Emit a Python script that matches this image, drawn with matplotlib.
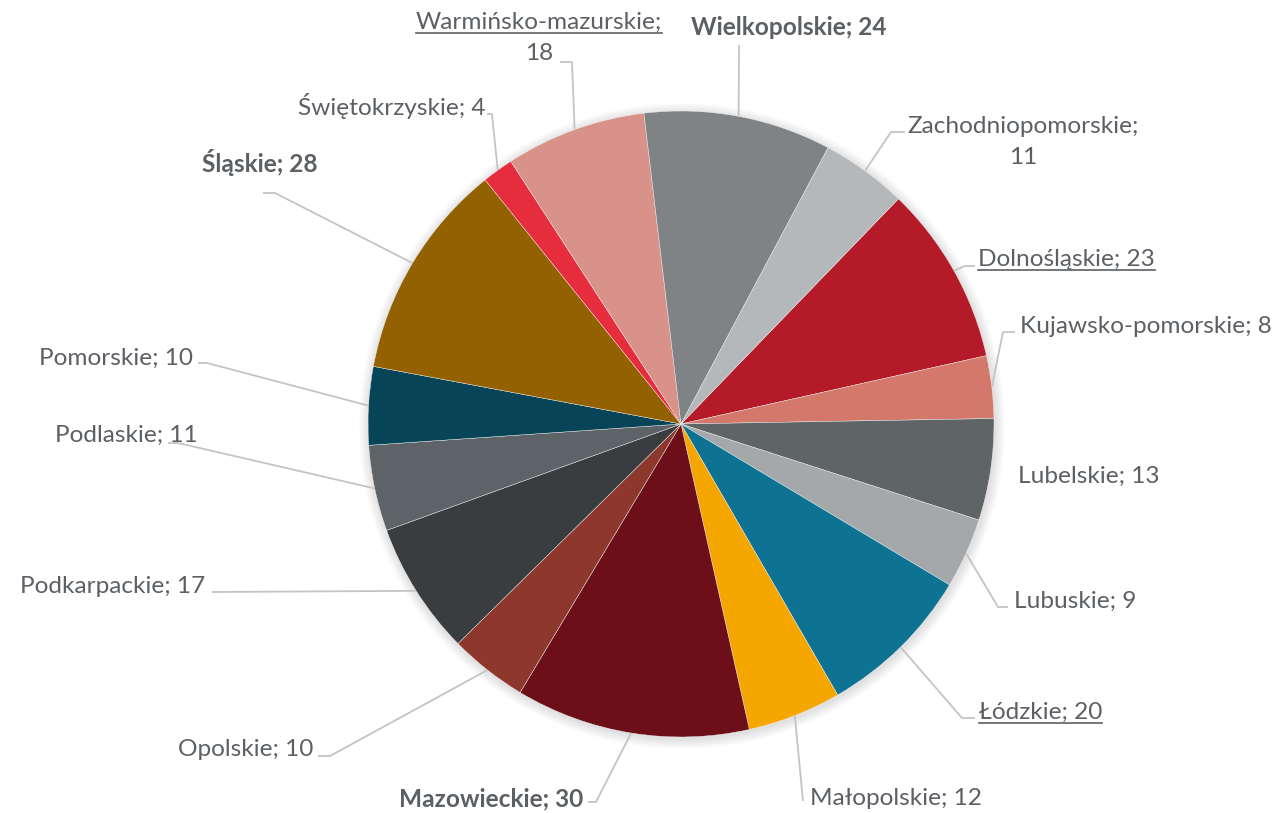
import matplotlib

matplotlib.use("Agg")
import numpy as np
import matplotlib.pyplot as plt
from matplotlib.patches import Circle

# dane: liczba na województwo (kolejność alfabetyczna jak w arkuszu)
regions = [
    "Dolnośląskie",
    "Kujawsko-pomorskie",
    "Lubelskie",
    "Lubuskie",
    "Łódzkie",
    "Małopolskie",
    "Mazowieckie",
    "Opolskie",
    "Podkarpackie",
    "Podlaskie",
    "Pomorskie",
    "Śląskie",
    "Świętokrzyskie",
    "Warmińsko-mazurskie",
    "Wielkopolskie",
    "Zachodniopomorskie",
]
counts = [23, 8, 13, 9, 20, 12, 30, 10, 17, 11, 10, 28, 4, 18, 24, 11]
slice_colors = [
    "#B41A28",
    "#D4786B",
    "#5F6467",
    "#A5A8AB",
    "#0E7393",
    "#F5A700",
    "#6C0F19",
    "#8E372D",
    "#393D3F",
    "#5E6368",
    "#074457",
    "#936100",
    "#E52D3D",
    "#D99289",
    "#7F8386",
    "#B5B8BA",
]
bold_regions = ["Mazowieckie", "Śląskie", "Wielkopolskie"]
underlined_regions = ["Dolnośląskie", "Łódzkie", "Warmińsko-mazurskie"]
two_line_regions = ["Warmińsko-mazurskie", "Zachodniopomorskie"]

W, H = 1279, 813
CENTER = (681, 424)
RADIUS = 313
TEXT_COLOR = "#5C6064"
LINE_COLOR = "#C4C4C4"
FONT_SIZE = 17.6

# rozmieszczenie etykiet w pikselach (y w dół): (x, linia bazowa, ha), punkty linii odniesienia
label_layout = {
    "Dolnośląskie": ((978, 266, "left"), [(975, 266), (965, 266)]),
    "Kujawsko-pomorskie": ((1020, 333, "left"), [(1015, 332), (1003, 332)]),
    "Lubelskie": ((1018, 483, "left"), None),
    "Lubuskie": ((1014, 608, "left"), [(1008, 607), (998, 607)]),
    "Łódzkie": ((979, 719, "left"), [(975, 718), (962, 718)]),
    "Małopolskie": ((810, 805, "left"), [(803, 801)]),
    "Mazowieckie": ((583, 806, "right"), [(588, 802), (596, 802)]),
    "Opolskie": ((313, 756, "right"), [(318, 756), (330, 756)]),
    "Podkarpackie": ((205, 593, "right"), [(212, 592)]),
    "Podlaskie": ((198, 442, "right"), [(168, 443), (178, 443)]),
    "Pomorskie": ((193, 365, "right"), [(198, 363), (207, 363)]),
    "Śląskie": ((318, 172, "right"), [(263, 193), (275, 193)]),
    "Świętokrzyskie": ((486, 115, "right"), [(487, 114), (492, 114)]),
    "Warmińsko-mazurskie": ((539, 29, "center"), [(560, 62), (572, 62)]),
    "Wielkopolskie": ((789, 35, "center"), [(739, 45)]),
    "Zachodniopomorskie": ((1023, 133, "center"), [(905, 132), (891, 132)]),
}
LINE_GAP = 31


def to_ax(x, y):
    return x, H - y


def main():
    plt.rcParams["font.family"] = ["Lato", "DejaVu Sans"]
    fig = plt.figure(figsize=(W / 100, H / 100), dpi=100)
    ax = fig.add_axes([0, 0, 1, 1])

    cx, cy = to_ax(*CENTER)

    # delikatny cień pod wykresem
    for i in range(10):
        ax.add_patch(
            Circle((cx + 1, cy - 2), RADIUS + 1 + i * 1.0, color="black",
                   alpha=0.01, lw=0, zorder=0)
        )

    wedges, _ = ax.pie(
        counts,
        colors=slice_colors,
        startangle=46,
        counterclock=False,
        center=(cx, cy),
        radius=RADIUS,
        frame=True,
        wedgeprops=dict(linewidth=0.3, edgecolor="#F0F0F0"),
    )
    for w in wedges:
        w.set_zorder(2)

    ax.set_xlim(0, W)
    ax.set_ylim(0, H)
    ax.set_aspect("equal")
    ax.axis("off")

    underline_texts = []
    for name, value, wedge in zip(regions, counts, wedges):
        (tx, ty, ha), knees = label_layout[name]
        weight = "bold" if name in bold_regions else "normal"
        if name in two_line_regions:
            lines = [f"{name};", f"{value}"]
        else:
            lines = [f"{name}; {value}"]
        for k, line in enumerate(lines):
            t = ax.text(
                *to_ax(tx, ty + k * LINE_GAP),
                line,
                ha=ha,
                va="baseline",
                fontsize=FONT_SIZE,
                fontweight=weight,
                color=TEXT_COLOR,
                zorder=3,
            )
            if k == 0 and name in underlined_regions:
                underline_texts.append((t, ty))

        # linia odniesienia do środka łuku wycinka
        if knees is not None:
            mid = np.deg2rad((wedge.theta1 + wedge.theta2) / 2)
            ex = cx + RADIUS * np.cos(mid)
            ey = cy + RADIUS * np.sin(mid)
            pts = [to_ax(x, y) for x, y in knees] + [(ex, ey)]
            ax.plot(
                [p[0] for p in pts],
                [p[1] for p in pts],
                color=LINE_COLOR,
                lw=1.3,
                solid_capstyle="butt",
                zorder=1,
            )

    # podkreślenia
    fig.canvas.draw()
    renderer = fig.canvas.get_renderer()
    inv = ax.transData.inverted()
    for t, base in underline_texts:
        bb = t.get_window_extent(renderer=renderer)
        x0 = inv.transform((bb.x0, 0))[0]
        x1 = inv.transform((bb.x1, 0))[0]
        uy = H - (base + 4)
        ax.plot([x0, x1], [uy, uy], color=TEXT_COLOR, lw=1.2, zorder=3)

    fig.savefig("out.png", dpi=100)


if __name__ == "__main__":
    main()
